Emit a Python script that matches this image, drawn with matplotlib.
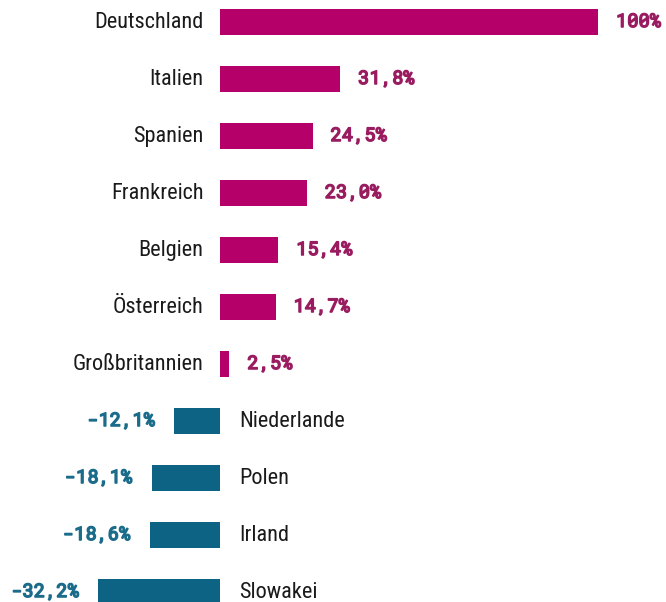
import matplotlib
matplotlib.use("Agg")
import matplotlib.pyplot as plt
import matplotlib.patheffects as pe

countries = ["Deutschland", "Italien", "Spanien", "Frankreich", "Belgien",
             "Österreich", "Großbritannien", "Niederlande", "Polen", "Irland",
             "Slowakei"]
values = [100, 31.8, 24.5, 23.0, 15.4, 14.7, 2.5, -12.1, -18.1, -18.6, -32.2]
value_labels = ["100%", "31,8%", "24,5%", "23,0%", "15,4%", "14,7%", "2,5%",
                "-12,1%", "-18,1%", "-18,6%", "-32,2%"]

POS_BAR = "#B5006A"
NEG_BAR = "#0D6384"
POS_TXT = "#9A1C60"
NEG_TXT = "#1B6C8A"

NAME_FONT = ["Roboto Condensed", "DejaVu Sans"]
VALUE_FONT = ["Roboto Mono", "DejaVu Sans Mono"]

fig = plt.figure(figsize=(6.66, 6.02), dpi=100)
ax = fig.add_axes([0, 0, 1, 1])

ys = list(range(len(values)))
colors = [POS_BAR if v >= 0 else NEG_BAR for v in values]
ax.barh(ys, values, height=0.46, color=colors)

gap = 12
for y, v, name, lab in zip(ys, values, countries, value_labels):
    tc = POS_TXT if v >= 0 else NEG_TXT
    # the mono font only ships one weight here, so thicken it with a stroke
    heavy = [pe.withStroke(linewidth=1.1, foreground=tc)]
    if v >= 0:
        ax.annotate(name, (0, y), xytext=(-gap, 0), textcoords="offset points",
                    ha="right", va="center", fontsize=16, family=NAME_FONT,
                    color="#1a1a1a")
        ax.annotate(lab, (v, y), xytext=(gap + 1, 0), textcoords="offset points",
                    ha="left", va="center", fontsize=13.5, family=VALUE_FONT,
                    fontweight="bold", color=tc, path_effects=heavy)
    else:
        ax.annotate(name, (0, y), xytext=(gap + 2, 0), textcoords="offset points",
                    ha="left", va="center", fontsize=16, family=NAME_FONT,
                    color="#1a1a1a")
        ax.annotate(lab, (v, y), xytext=(-gap - 2, 0), textcoords="offset points",
                    ha="right", va="center", fontsize=13.5, family=VALUE_FONT,
                    fontweight="bold", color=tc, path_effects=heavy)

ax.set_xlim(-58.2, 118.0)
ax.set_ylim(10.175, -0.386)
ax.axis("off")

fig.savefig("out.png", dpi=100, facecolor="white")
